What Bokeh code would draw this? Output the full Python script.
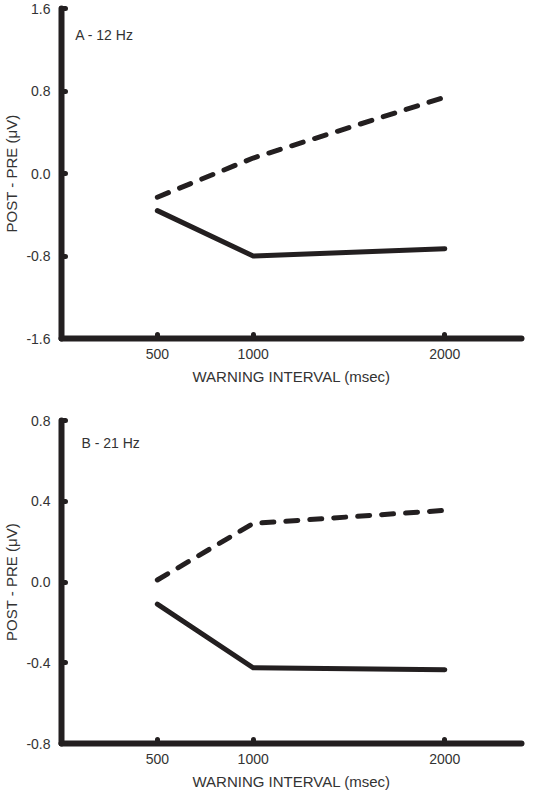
from bokeh.plotting import figure
from bokeh.layouts import column
from bokeh.models import FixedTicker, PrintfTickFormatter, Label, Range1d
from bokeh.embed import file_html
from bokeh.resources import INLINE

# ---- data ----
intervals = [500, 1000, 2000]
x_ticks = [500, 1000, 2000]

a_title = "A - 12 Hz"
a_yticks = [-1.6, -0.8, 0.0, 0.8, 1.6]
a_dashed = [-0.23, 0.15, 0.74]
a_solid = [-0.36, -0.80, -0.73]

b_title = "B - 21 Hz"
b_yticks = [-0.8, -0.4, 0.0, 0.4, 0.8]
b_dashed = [0.01, 0.29, 0.355]
b_solid = [-0.11, -0.425, -0.435]

x_label = "WARNING INTERVAL (msec)"
y_label = "POST - PRE (\u03bcV)"

INK = "#231f20"
TXT = "#333333"
FONT = "Liberation Sans"


def panel(title, yticks, dashed, solid, x_end, height, mb_top, mb_bottom, mb_right, lx, ly):
    p = figure(width=536, height=height,
               x_range=Range1d(0, x_end), y_range=Range1d(yticks[0], yticks[-1]),
               output_backend="svg", toolbar_location=None,
               min_border_left=58, min_border_right=mb_right,
               min_border_top=mb_top, min_border_bottom=mb_bottom)
    p.outline_line_color = None
    p.grid.visible = False
    p.background_fill_color = "white"
    p.border_fill_color = "white"

    for ax in (p.xaxis[0], p.yaxis[0]):
        ax.axis_line_width = 6
        ax.axis_line_color = INK
        ax.axis_line_cap = "round"
        ax.major_tick_in = 4
        ax.major_tick_out = 0
        ax.major_tick_line_width = 5
        ax.major_tick_line_color = INK
        ax.major_tick_line_cap = "round"
        ax.minor_tick_line_color = None
        ax.major_label_text_font = FONT
        ax.major_label_text_font_size = "14px"
        ax.major_label_text_color = TXT
        ax.axis_label_text_font = FONT
        ax.axis_label_text_font_size = "15px"
        ax.axis_label_text_font_style = "normal"
        ax.axis_label_text_color = TXT

    p.xaxis.ticker = FixedTicker(ticks=x_ticks)
    p.xaxis.major_label_standoff = 10
    p.xaxis.axis_label = x_label
    p.xaxis.axis_label_standoff = 6

    p.yaxis.ticker = FixedTicker(ticks=yticks)
    p.yaxis.formatter = PrintfTickFormatter(format="%.1f")
    p.yaxis.major_label_standoff = 11
    p.yaxis.axis_label = y_label
    p.yaxis.axis_label_standoff = 3

    p.line(intervals, dashed, line_width=5, line_color=INK, line_dash="12 12",
           line_cap="round", line_join="round")
    p.line(intervals, solid, line_width=5, line_color=INK,
           line_cap="round", line_join="miter")

    p.add_layout(Label(x=lx, y=ly, text=title, text_font=FONT, text_font_size="14px",
                       text_color=TXT, text_baseline="middle"))
    return p


p1 = panel(a_title, a_yticks, a_dashed, a_solid, 2400, 396, 8, 58, 4, 72, 1.34)
p2 = panel(b_title, b_yticks, b_dashed, b_solid, 2400, 396, 24, 48, 15, 104, 0.69)

layout = column(p1, p2)
open("out.html", "w").write(file_html(layout, INLINE))
